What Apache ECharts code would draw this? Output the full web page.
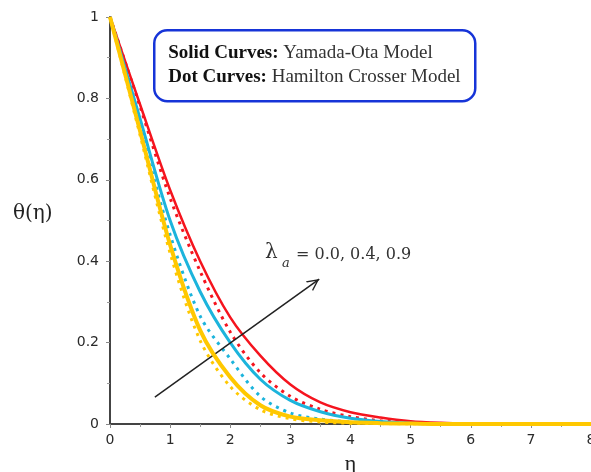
<!DOCTYPE html>
<html>
<head>
<meta charset="utf-8">
<script src="https://cdn.jsdelivr.net/npm/echarts@6/dist/echarts.min.js"></script>
<style>
  html, body { margin: 0; padding: 0; background: #ffffff; }
  #chart { width: 591px; height: 472px; }
</style>
</head>
<body>
<div id="chart"></div>
<script>
// Similarity variable η (shared abscissa of all profiles)
const eta = [0, 0.5, 1, 1.5, 2, 2.5, 3, 3.5, 4, 4.5, 5, 5.5, 6, 6.5, 7, 7.5, 8];

// Temperature profiles θ(η); solid = Yamada-Ota, dotted = Hamilton Crosser
const redSolid    = [1, 0.785, 0.575, 0.400, 0.262, 0.168, 0.097, 0.053, 0.029, 0.016, 0.007, 0.003, 0.001, 0, 0, 0, 0];
const redDot      = [1, 0.780, 0.555, 0.375, 0.226, 0.126, 0.068, 0.036, 0.018, 0.008, 0.003, 0.001, 0, 0, 0, 0, 0];
const cyanSolid   = [1, 0.750, 0.500, 0.325, 0.200, 0.110, 0.058, 0.030, 0.014, 0.006, 0.002, 0.001, 0, 0, 0, 0, 0];
const cyanDot     = [1, 0.730, 0.465, 0.265, 0.160, 0.068, 0.027, 0.012, 0.005, 0.002, 0.001, 0, 0, 0, 0, 0, 0];
const yellowSolid = [1, 0.720, 0.440, 0.230, 0.115, 0.046, 0.018, 0.009, 0.004, 0.002, 0.001, 0, 0, 0, 0, 0, 0];
const yellowDot   = [1, 0.710, 0.420, 0.205, 0.092, 0.035, 0.013, 0.005, 0.002, 0.001, 0, 0, 0, 0, 0, 0, 0];

// Arrow marking the direction of increasing λa (η, θ at tail and head)
const arrowTail = [0.746, 0.066];
const arrowHead = [3.48, 0.356];

const legendLines = [
  { bold: 'Solid Curves:', plain: ' Yamada-Ota Model' },
  { bold: 'Dot Curves:', plain: ' Hamilton Crosser Model' }
];
const lambdaValues = '= 0.0, 0.4, 0.9';

const RED = '#f5141e';
const CYAN = '#1cb4dc';
const YELLOW = '#ffc800';

function pairs(ys) { return eta.map((x, i) => [x, ys[i]]); }

function curve(name, ys, color, width, dotted, z) {
  return {
    name: name,
    type: 'line',
    data: pairs(ys),
    showSymbol: false,
    smooth: 0.3,
    z: z,
    lineStyle: {
      color: color,
      width: width,
      type: dotted ? [3, 5] : 'solid',
      cap: 'butt'
    }
  };
}

const chart = echarts.init(document.getElementById('chart'), null, { renderer: 'canvas' });

const series = [
  curve('redSolid', redSolid, RED, 2.5, false, 3),
  curve('redDot', redDot, RED, 3, true, 3),
  curve('cyanSolid', cyanSolid, CYAN, 3, false, 4),
  curve('cyanDot', cyanDot, CYAN, 3, true, 4),
  curve('yellowSolid', yellowSolid, YELLOW, 4, false, 5),
  curve('yellowDot', yellowDot, YELLOW, 3, true, 5)
];

series.push({
  name: 'arrow',
  type: 'line',
  data: [],
  z: 10,
  markLine: {
    silent: true,
    animation: false,
    symbol: ['none', 'path://M6,0L6,0.01M0,24L6,12L12,24L10.5,24L6,15L1.5,24Z'],
    symbolSize: [12, 24],
    itemStyle: { color: '#222' },
    lineStyle: { color: '#222', width: 1.5, type: 'solid' },
    label: { show: false },
    data: [[{ coord: arrowTail }, { coord: arrowHead }]]
  }
});

const axisFont = { fontFamily: 'DejaVu Sans', fontSize: 14, color: '#2a2a2a' };

chart.setOption({
  animation: false,
  backgroundColor: '#ffffff',
  grid: { left: 110, right: 0, top: 17, bottom: 48, containLabel: false, outerBoundsMode: 'none' },
  xAxis: {
    type: 'value',
    min: 0, max: 8, interval: 1,
    name: 'η',
    nameLocation: 'middle',
    nameGap: 29,
    nameTextStyle: { fontFamily: 'Liberation Serif', fontSize: 22, color: '#222' },
    axisLine: { show: true, onZero: false, lineStyle: { color: '#444', width: 2 } },
    axisTick: { show: true, length: 4, lineStyle: { color: '#888' } },
    minorTick: { show: true, splitNumber: 2, length: 3, lineStyle: { color: '#999' } },
    splitLine: { show: false },
    axisLabel: Object.assign({ margin: 9 }, axisFont)
  },
  yAxis: {
    type: 'value',
    min: 0, max: 1, interval: 0.2,
    axisLine: { show: true, onZero: false, lineStyle: { color: '#444', width: 2 } },
    axisTick: { show: true, length: 4, lineStyle: { color: '#888' } },
    minorTick: { show: true, splitNumber: 2, length: 3, lineStyle: { color: '#999' } },
    splitLine: { show: false },
    axisLabel: Object.assign({ margin: 11 }, axisFont)
  },
  graphic: [
    {
      type: 'text',
      left: 13, top: 204,
      style: { text: 'θ(η)', fontFamily: 'DejaVu Serif', fontSize: 20, fill: '#222' }
    },
    {
      type: 'group',
      left: 153, top: 29,
      children: [
        {
          type: 'rect',
          shape: { x: 0, y: 0, width: 321, height: 71, r: 13 },
          style: { fill: '#ffffff', stroke: '#1634d8', lineWidth: 2.5 }
        },
        {
          type: 'text',
          x: 14, y: 13,
          style: {
            text: '{b|' + legendLines[0].bold + '}{r|' + legendLines[0].plain + '}',
            rich: {
              b: { fontFamily: 'Liberation Serif', fontWeight: 'bold', fontSize: 19, fill: '#111' },
              r: { fontFamily: 'Liberation Serif', fontSize: 19, fill: '#333' }
            }
          }
        },
        {
          type: 'text',
          x: 14, y: 37,
          style: {
            text: '{b|' + legendLines[1].bold + '}{r|' + legendLines[1].plain + '}',
            rich: {
              b: { fontFamily: 'Liberation Serif', fontWeight: 'bold', fontSize: 19, fill: '#111' },
              r: { fontFamily: 'Liberation Serif', fontSize: 19, fill: '#333' }
            }
          }
        }
      ]
    },
    {
      type: 'text',
      x: 265, y: 253,
      style: { text: 'λ', fontFamily: 'DejaVu Serif', fontSize: 20, fill: '#333', verticalAlign: 'middle' }
    },
    {
      type: 'text',
      x: 282, y: 264,
      style: { text: 'a', fontFamily: 'DejaVu Serif', fontStyle: 'italic', fontSize: 13, fill: '#333', verticalAlign: 'middle' }
    },
    {
      type: 'text',
      x: 296, y: 255,
      style: { text: lambdaValues, fontFamily: 'DejaVu Serif', fontSize: 16, fill: '#333', verticalAlign: 'middle' }
    }
  ],
  series: series
});
</script>
</body>
</html>
